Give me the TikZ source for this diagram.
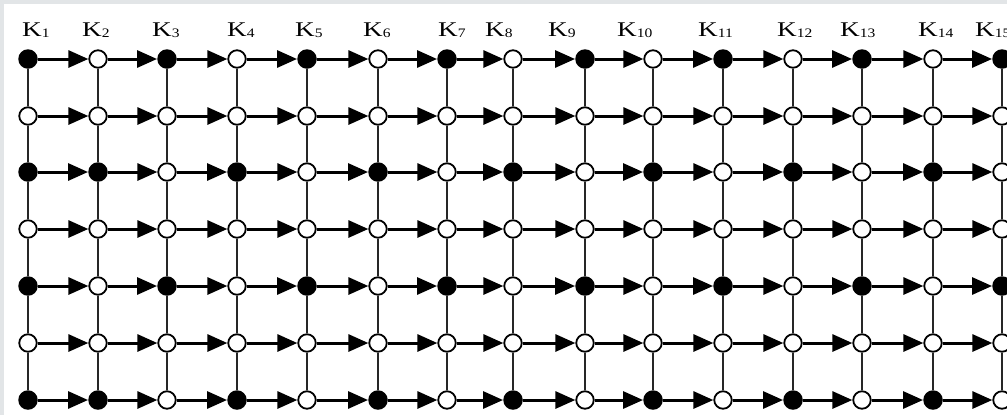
\documentclass[tikz,border=0pt]{standalone}
\usepackage{fontspec}
\setmainfont{Liberation Serif}
\usetikzlibrary{arrows.meta}
\definecolor{bordergray}{HTML}{E2E5E7}
\newcommand\klab[1]{\scalebox{1.3}[1]{\fontsize{21}{21}\selectfont K}\raisebox{-1bp}{\scalebox{1.2}[1]{\fontsize{13}{13}\selectfont #1}}}
\tikzset{
  openpt/.style={circle, draw=black, line width=1.8bp, fill=white, minimum size=17.5bp, inner sep=0pt},
  fullpt/.style={circle, fill=black, minimum size=19.5bp, inner sep=0pt},
  hlink/.style={line width=3bp, -{Triangle[length=20bp,width=17bp]}},
  vlink/.style={line width=2.4bp, draw=black!85},
  klabel/.style={anchor=base west, inner sep=0pt},
}
\begin{document}
\begin{tikzpicture}[x=1bp,y=-1bp]
\fill[bordergray] (0,0) rectangle (1007,415);
\fill[white] (4,4) rectangle (1007,415);
\useasboundingbox (0,0) rectangle (1007,415);
% nodes
\foreach \x [count=\c] in {28,98,167,237,307,378,447,513,585,653,723,793,862,933,1002}{
  \foreach \y [count=\r] in {59,116,172,229,286,343,400}{
    \pgfmathtruncatemacro\f{((mod(\r,4)==1) && (mod(\c,2)==1)) || ((mod(\r,4)==3) && ((mod(\c,2)==0) || (\c==1))) ? 1 : 0}
    \ifnum\f=1
      \node[fullpt] (n-\r-\c) at (\x,\y) {};
    \else
      \node[openpt] (n-\r-\c) at (\x,\y) {};
    \fi
  }
}
% horizontal arrows
\foreach \r in {1,...,7}{
  \foreach \c [evaluate=\c as \d using int(\c+1)] in {1,...,14}{
    \draw[hlink] (n-\r-\c) -- (n-\r-\d);
  }
}
% vertical links
\foreach \r [evaluate=\r as \s using int(\r+1)] in {1,...,6}{
  \foreach \c in {1,...,15}{
    \draw[vlink] (n-\r-\c) -- (n-\s-\c);
  }
}
% labels
\foreach \lx [count=\c] in {22,82,152,227,295,363,438,485,548,617,698,777,840,918,975}{
  \node[klabel] (k\c) at (\lx,36) {\klab{\c}};
}
\end{tikzpicture}
\end{document}
